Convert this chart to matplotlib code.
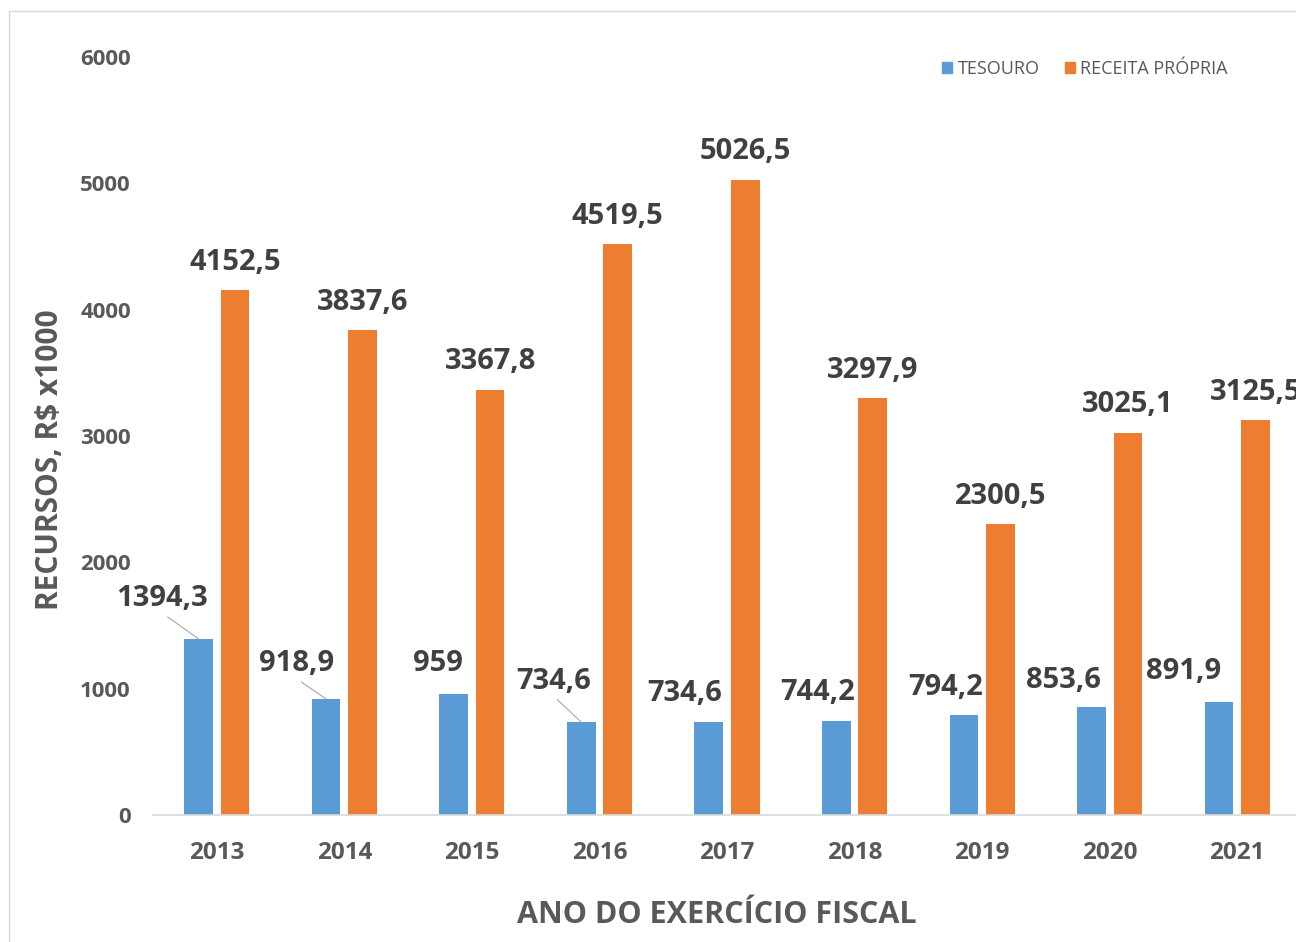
import matplotlib
matplotlib.use("Agg")
import matplotlib.pyplot as plt
from matplotlib.lines import Line2D
from matplotlib.patches import Patch
import numpy as np

# ---- data ----
years = ["2013", "2014", "2015", "2016", "2017", "2018", "2019", "2020", "2021"]
tesouro = [1394.3, 918.9, 959, 734.6, 734.6, 744.2, 794.2, 853.6, 891.9]
receita = [4152.5, 3837.6, 3367.8, 4519.5, 5026.5, 3297.9, 2300.5, 3025.1, 3125.5]
tesouro_labels = ["1394,3", "918,9", "959", "734,6", "734,6", "744,2", "794,2", "853,6", "891,9"]
receita_labels = ["4152,5", "3837,6", "3367,8", "4519,5", "5026,5", "3297,9", "2300,5", "3025,1", "3125,5"]
series_names = ["TESOURO", "RECEITA PRÓPRIA"]
yticks = [0, 1000, 2000, 3000, 4000, 5000, 6000]

# ---- style ----
BLUE = "#5B9BD5"
ORANGE = "#ED7D31"
DARK = "#404040"
GREY = "#595959"
FONT = "Open Sans"

# label offsets (pixels) for TESOURO labels: (dx, dy) from bar top-centre
blue_offsets = [(-36, 40), (-30, 35), (-16, 30), (-28, 41), (-24, 29),
                (-19, 28), (-18, 27), (-28, 27), (-35, 31)]
leader = [True, True, False, True, False, False, False, False, False]

W, H = 1296, 942
fig = plt.figure(figsize=(W / 100, H / 100), dpi=100)
fig.patch.set_facecolor("white")

# chart border (partially clipped)
fig.add_artist(Line2D([9 / W, 1.0], [1 - 11 / H, 1 - 11 / H], transform=fig.transFigure,
                      color="#D9D9D9", lw=1))
fig.add_artist(Line2D([9 / W, 9 / W], [0, 1 - 11 / H], transform=fig.transFigure,
                      color="#D9D9D9", lw=1))

ax_left, ax_right = 153, 1301
ax_bottom, ax_top = 815, 57
ax = fig.add_axes([ax_left / W, 1 - ax_bottom / H, (ax_right - ax_left) / W, (ax_bottom - ax_top) / H])

x = np.arange(len(years))
bw = 0.225
off = 0.143
ax.bar(x - off, tesouro, width=bw, color=BLUE, zorder=2)
ax.bar(x + off, receita, width=bw, color=ORANGE, zorder=2)

ax.set_xlim(-0.5, len(years) - 0.5)
ax.set_ylim(0, 6000)
ax.set_yticks(yticks)
ax.set_yticklabels([str(t) for t in yticks])
ax.set_xticks(x)
ax.set_xticklabels(years)
for s in ["top", "right", "left"]:
    ax.spines[s].set_visible(False)
ax.spines["bottom"].set_color("#D9D9D9")
ax.spines["bottom"].set_linewidth(1.2)
ax.tick_params(axis="both", length=0)
ax.tick_params(axis="y", pad=16)
ax.tick_params(axis="x", pad=19)
for lbl in ax.get_yticklabels():
    lbl.set_fontfamily(FONT); lbl.set_fontweight("bold"); lbl.set_fontsize(16); lbl.set_color(GREY)
for lbl in ax.get_xticklabels():
    lbl.set_fontfamily(FONT); lbl.set_fontweight("bold"); lbl.set_fontsize(17.5); lbl.set_color(GREY)

# data labels
for i, (v, t) in enumerate(zip(receita, receita_labels)):
    ax.annotate(t, xy=(x[i] + off, v), xytext=(0, 28), textcoords="offset pixels",
                ha="center", va="center", fontsize=21, fontweight="bold",
                fontfamily=FONT, color=DARK, annotation_clip=False)
for i, (v, t) in enumerate(zip(tesouro, tesouro_labels)):
    dx, dy = blue_offsets[i]
    kw = {}
    if leader[i]:
        kw["arrowprops"] = dict(arrowstyle="-", color="#AFAFAF", lw=0.9,
                                shrinkA=1, shrinkB=0, relpos=(0.5, 0.0))
    ax.annotate(t, xy=(x[i] - off, v), xytext=(dx, dy), textcoords="offset pixels",
                ha="center", va="center", fontsize=21, fontweight="bold",
                fontfamily=FONT, color=DARK, annotation_clip=False, **kw)

# axis titles
fig.text(50 / W, 1 - 460 / H, "RECURSOS, R$ x1000", rotation=90, ha="center", va="center",
         fontsize=21.5, fontweight="bold", fontfamily=FONT, color=GREY)
fig.text(717 / W, 1 - 915 / H, "ANO DO EXERCÍCIO FISCAL", ha="center", va="center",
         fontsize=22, fontweight="bold", fontfamily=FONT, color=GREY)

# legend
handles = [Patch(color=BLUE), Patch(color=ORANGE)]
leg = fig.legend(handles, series_names, loc="center", bbox_to_anchor=(1085 / W, 1 - 69 / H),
                 ncol=2, frameon=False, handlelength=0.55, handleheight=0.55,
                 handletextpad=0.3, columnspacing=1.4,
                 prop={"family": FONT, "size": 13})
for t in leg.get_texts():
    t.set_color(GREY)

fig.savefig("out.png", dpi=100)
